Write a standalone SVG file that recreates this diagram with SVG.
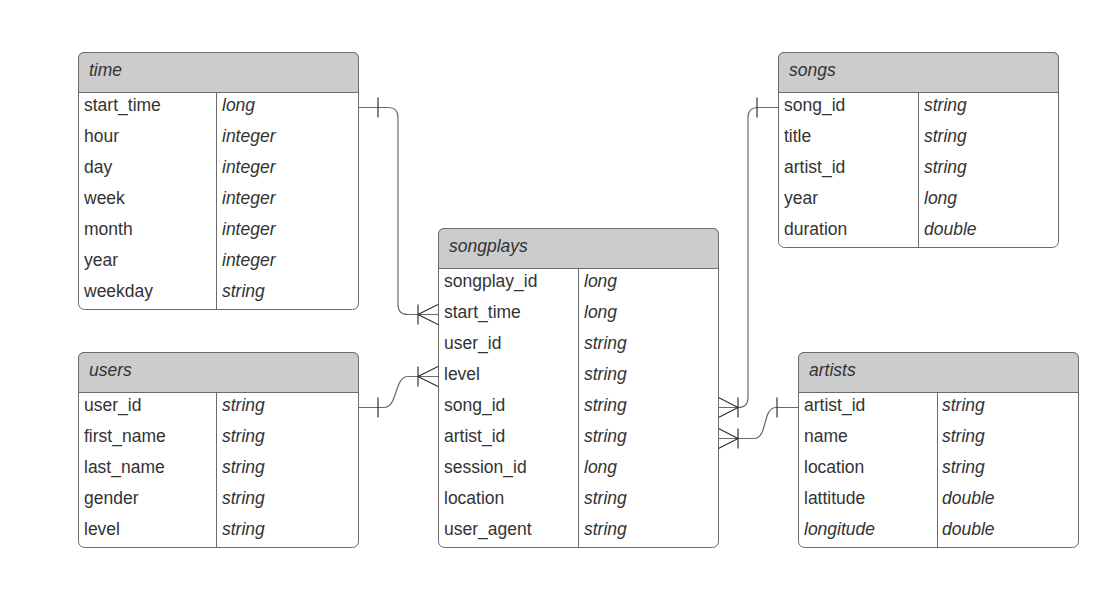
<svg xmlns="http://www.w3.org/2000/svg" width="1117" height="591" viewBox="0 0 1117 591">
<style>
.box{fill:#fff;stroke:#6b6b6b;stroke-width:1}
.hdr{fill:#cccccc;stroke:#6b6b6b;stroke-width:1}
.ln{stroke:#6b6b6b;stroke-width:1;fill:none}
text{font-family:"Liberation Sans",Arial,sans-serif;font-size:17.5px;fill:#333}
.t{font-style:italic}
.c{stroke:#6b6b6b;stroke-width:1.2;fill:none}
.k{stroke:#333;stroke-width:1.2;fill:none}
</style>
<rect width="1117" height="591" fill="#fff"/>
<g id="time">
<rect class="box" x="78.5" y="52.5" width="280" height="257" rx="6"/>
<path class="hdr" d="M78.5,92.5 V58.5 Q78.5,52.5 84.5,52.5 H352.5 Q358.5,52.5 358.5,58.5 V92.5 Z"/>
<line class="ln" x1="216.5" y1="92.5" x2="216.5" y2="309.5"/>
<text class="t" x="89" y="76">time</text>
<text x="84" y="111">start_time</text><text class="t" x="222" y="111">long</text>
<text x="84" y="142">hour</text><text class="t" x="222" y="142">integer</text>
<text x="84" y="173">day</text><text class="t" x="222" y="173">integer</text>
<text x="84" y="204">week</text><text class="t" x="222" y="204">integer</text>
<text x="84" y="235">month</text><text class="t" x="222" y="235">integer</text>
<text x="84" y="266">year</text><text class="t" x="222" y="266">integer</text>
<text x="84" y="297">weekday</text><text class="t" x="222" y="297">string</text>
</g>
<g id="songs">
<rect class="box" x="778.5" y="52.5" width="280" height="195" rx="6"/>
<path class="hdr" d="M778.5,92.5 V58.5 Q778.5,52.5 784.5,52.5 H1052.5 Q1058.5,52.5 1058.5,58.5 V92.5 Z"/>
<line class="ln" x1="918.5" y1="92.5" x2="918.5" y2="247.5"/>
<text class="t" x="789" y="76">songs</text>
<text x="784" y="111">song_id</text><text class="t" x="924" y="111">string</text>
<text x="784" y="142">title</text><text class="t" x="924" y="142">string</text>
<text x="784" y="173">artist_id</text><text class="t" x="924" y="173">string</text>
<text x="784" y="204">year</text><text class="t" x="924" y="204">long</text>
<text x="784" y="235">duration</text><text class="t" x="924" y="235">double</text>
</g>
<g id="songplays">
<rect class="box" x="438.5" y="228.5" width="280" height="319" rx="6"/>
<path class="hdr" d="M438.5,268.5 V234.5 Q438.5,228.5 444.5,228.5 H712.5 Q718.5,228.5 718.5,234.5 V268.5 Z"/>
<line class="ln" x1="578.5" y1="268.5" x2="578.5" y2="547.5"/>
<text class="t" x="449" y="252">songplays</text>
<text x="444" y="287">songplay_id</text><text class="t" x="584" y="287">long</text>
<text x="444" y="318">start_time</text><text class="t" x="584" y="318">long</text>
<text x="444" y="349">user_id</text><text class="t" x="584" y="349">string</text>
<text x="444" y="380">level</text><text class="t" x="584" y="380">string</text>
<text x="444" y="411">song_id</text><text class="t" x="584" y="411">string</text>
<text x="444" y="442">artist_id</text><text class="t" x="584" y="442">string</text>
<text x="444" y="473">session_id</text><text class="t" x="584" y="473">long</text>
<text x="444" y="504">location</text><text class="t" x="584" y="504">string</text>
<text x="444" y="535">user_agent</text><text class="t" x="584" y="535">string</text>
</g>
<g id="users">
<rect class="box" x="78.5" y="352.5" width="280" height="195" rx="6"/>
<path class="hdr" d="M78.5,392.5 V358.5 Q78.5,352.5 84.5,352.5 H352.5 Q358.5,352.5 358.5,358.5 V392.5 Z"/>
<line class="ln" x1="216.5" y1="392.5" x2="216.5" y2="547.5"/>
<text class="t" x="89" y="376">users</text>
<text x="84" y="411">user_id</text><text class="t" x="222" y="411">string</text>
<text x="84" y="442">first_name</text><text class="t" x="222" y="442">string</text>
<text x="84" y="473">last_name</text><text class="t" x="222" y="473">string</text>
<text x="84" y="504">gender</text><text class="t" x="222" y="504">string</text>
<text x="84" y="535">level</text><text class="t" x="222" y="535">string</text>
</g>
<g id="artists">
<rect class="box" x="798.5" y="352.5" width="280" height="195" rx="6"/>
<path class="hdr" d="M798.5,392.5 V358.5 Q798.5,352.5 804.5,352.5 H1072.5 Q1078.5,352.5 1078.5,358.5 V392.5 Z"/>
<line class="ln" x1="937.5" y1="392.5" x2="937.5" y2="547.5"/>
<text class="t" x="809" y="376">artists</text>
<text x="804" y="411">artist_id</text><text class="t" x="942" y="411">string</text>
<text x="804" y="442">name</text><text class="t" x="942" y="442">string</text>
<text x="804" y="473">location</text><text class="t" x="942" y="473">string</text>
<text x="804" y="504">lattitude</text><text class="t" x="942" y="504">double</text>
<text class="t" x="804" y="535">longitude</text><text class="t" x="942" y="535">double</text>
</g>
<g id="connectors">
<path class="c" d="M358.5,107.5 H388 Q398,107.5 398,117.5 V304.5 Q398,314.5 408,314.5 H438"/>
<path class="k" d="M378,97.5 V117.5 M418,304.5 V324.5 M438,304.5 L418,314.5 L438,324.5"/>
<path class="c" d="M358.5,407.5 H384 C398,407.5 394,376.5 408,376.5 H438"/>
<path class="k" d="M378,397.5 V417.5 M418,366.5 V386.5 M438,366.5 L418,376.5 L438,386.5"/>
<path class="c" d="M778,107.5 H758 Q748,107.5 748,117.5 V397.5 Q748,407.5 738,407.5 H718.5"/>
<path class="k" d="M757,97.5 V117.5 M738,397.5 V417.5 M718.5,397.5 L738,407.5 L718.5,417.5"/>
<path class="c" d="M798,407.5 H776 C762,407.5 768,438.5 754,438.5 H718.5"/>
<path class="k" d="M777,397.5 V417.5 M738,428.5 V448.5 M718.5,428.5 L738,438.5 L718.5,448.5"/>
</g>
</svg>
